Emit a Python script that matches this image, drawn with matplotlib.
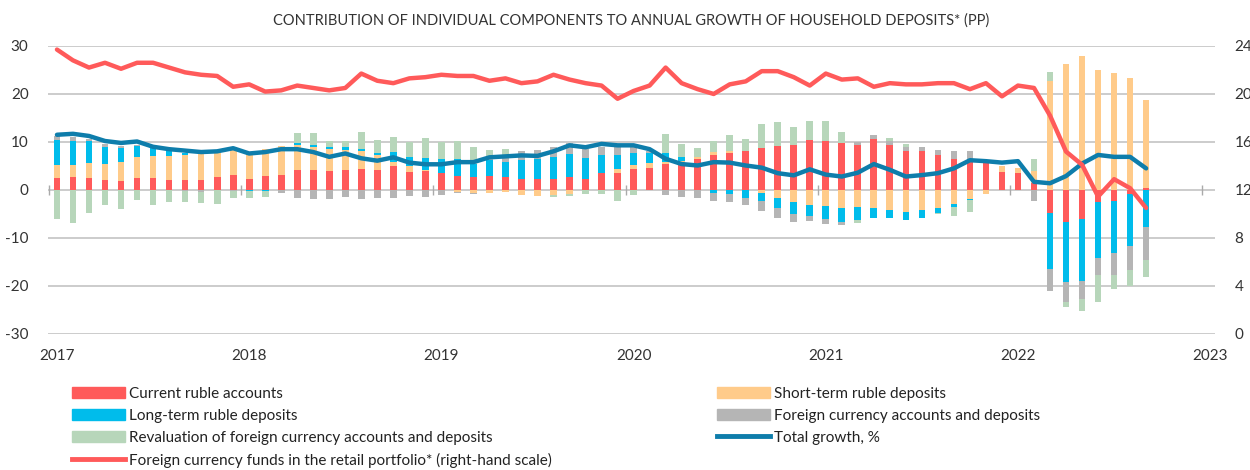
import numpy as np
import matplotlib.pyplot as plt
from matplotlib.patches import Patch
from matplotlib.lines import Line2D

plt.rcParams['font.family'] = ['Lato', 'DejaVu Sans']
plt.rcParams['axes.unicode_minus'] = False

# monthly data, Jan 2017 .. Sep 2022 (pp)
years = ['2017', '2018', '2019', '2020', '2021', '2022', '2023']

current_ruble = [2.4, 2.6, 2.5, 2.1, 1.9, 2.4, 2.4, 2.15, 2.15, 2.15,
                 2.6, 3.1, 2.3, 3.0, 3.1, 4.1, 4.2, 4.0, 4.2, 4.3,
                 4.2, 4.9, 3.75, 4.0, 3.5, 2.9, 2.6, 3.0, 2.6, 2.3,
                 2.2, 2.3, 2.8, 2.3, 3.5, 3.6, 4.3, 4.65, 5.5, 5.1,
                 6.5, 7.3, 7.8, 8.1, 8.8, 9.2, 9.4, 10.5, 10.1, 9.8,
                 9.4, 10.55, 9.4, 8.2, 8.2, 7.3, 6.5, 6.4, 5.6, 3.8,
                 3.5, 1.5, -4.9, -6.7, -6.0, -2.5, -2.2, -0.9, 0.4]
short_term = [2.7, 2.5, 3.1, 3.3, 4.0, 4.4, 4.6, 4.95, 5.15, 5.45,
              5.0, 5.8, 5.1, 5.6, 6.1, 5.3, 4.8, 4.6, 4.2, 3.8,
              3.1, 1.0, 1.25, 0.2, 0.0, -0.4, -0.7, -0.7, -0.5, -1.0,
              -1.2, -1.1, -0.8, 0.0, 0.0, 0.8, 0.9, 1.05, 0.4, 1.0,
              0.4, 0.7, 0.4, 0.0, -0.55, -1.7, -2.6, -3.1, -3.3, -3.75,
              -3.5, -3.7, -4.2, -4.6, -4.2, -3.75, -2.9, -1.9, -0.75, 1.2,
              1.0, 2.5, 22.6, 26.25, 28.0, 25.0, 24.4, 23.3, 18.35]
long_term = [5.3, 5.1, 4.6, 3.6, 2.9, 2.4, 1.75, 1.0, 0.5, 0.0,
             0.0, 0.0, -0.2, -0.2, 0.0, 0.35, 0.4, 0.35, 0.5, 0.4,
             0.3, 2.1, 1.8, 2.5, 2.9, 3.5, 2.75, 3.25, 3.3, 3.95,
             4.2, 4.6, 4.7, 4.4, 3.8, 2.9, 2.6, 2.1, 1.7, 0.7,
             -0.1, -0.7, -0.8, -1.6, -1.75, -2.05, -2.4, -2.3, -2.7, -2.85,
             -2.75, -2.1, -1.7, -1.6, -1.7, -1.15, -0.6, -0.25, 0.0, 0.0,
             0.0, 0.0, -11.6, -12.4, -13.0, -11.6, -11.0, -10.8, -7.7]
fx_accounts = [0.85, 0.9, 0.4, 0.6, 0.4, 0.2, 0.0, 0.0, -0.2, -0.5,
               0.0, -0.2, 0.0, 0.0, -0.6, -1.7, -1.8, -1.8, -1.4, -1.8,
               -1.7, -1.6, -1.3, -1.4, -1.1, -0.2, -0.1, 0.85, 0.7, 1.85,
               1.9, 2.0, 2.2, 1.9, 1.7, 1.6, 1.1, 0.3, -1.1, -1.4,
               -1.5, -1.5, -1.7, -1.6, -2.0, -2.05, -1.6, -1.0, -1.1, -0.7,
               0.5, 0.85, 0.7, 0.8, 0.7, 1.0, 1.55, 1.7, 0.0, 0.0,
               0.0, -2.4, -4.6, -4.2, -3.7, -3.6, -4.5, -5.0, -6.8]
revaluation = [-6.1, -6.9, -4.7, -3.1, -3.9, -2.1, -3.1, -2.5, -2.3, -2.2,
               -3.0, -1.5, -1.5, -1.2, 0.0, 2.1, 2.4, 1.3, 1.3, 3.6,
               2.8, 3.0, 3.1, 4.2, 3.6, 3.8, 3.65, 1.2, 1.9, 0.0,
               0.1, -0.4, -0.4, -0.8, -0.9, -2.4, -1.0, 0.0, 4.1, 2.8,
               1.85, 2.3, 3.3, 2.6, 4.9, 4.9, 3.7, 3.8, 4.2, 2.3,
               -0.55, 0.0, 0.7, 0.6, 0.0, -0.2, -2.0, -2.5, 0.0, 0.0,
               0.0, 2.5, 2.0, -1.0, -2.6, -5.6, -3.0, -3.3, -3.7]
total_growth = [11.5, 11.7, 11.25, 10.2, 9.8, 10.1, 9.0, 8.5, 8.2, 7.9,
                8.05, 8.7, 7.6, 7.9, 8.5, 8.5, 7.9, 6.9, 7.6, 6.6,
                6.1, 6.8, 5.7, 5.35, 5.35, 5.8, 5.8, 6.8, 7.0, 7.2,
                7.1, 8.05, 9.3, 8.9, 9.6, 9.3, 9.3, 8.5, 6.5, 5.4,
                5.1, 5.8, 5.7, 5.1, 4.65, 3.5, 3.05, 4.3, 3.2, 2.8,
                3.6, 5.4, 4.2, 2.8, 3.1, 3.5, 4.5, 6.2, 6.0, 5.7,
                6.0, 1.7, 1.4, 2.9, 5.5, 7.3, 6.9, 6.9, 4.5]
fx_share = [23.7, 22.8, 22.2, 22.6, 22.1, 22.6, 22.6, 22.2, 21.8, 21.6,
            21.5, 20.6, 20.8, 20.2, 20.3, 20.7, 20.5, 20.3, 20.5, 21.7,
            21.1, 20.9, 21.3, 21.4, 21.6, 21.5, 21.5, 21.1, 21.3, 20.9,
            21.05, 21.6, 21.2, 20.9, 20.7, 19.6, 20.25, 20.7, 22.2, 20.9,
            20.4, 20.0, 20.8, 21.05, 21.9, 21.9, 21.4, 20.7, 21.7, 21.2,
            21.3, 20.6, 20.9, 20.8, 20.8, 20.9, 20.9, 20.4, 20.9, 19.8,
            20.7, 20.5, 18.2, 15.2, 14.1, 11.45, 12.9, 12.15, 10.5]

series = [
    (current_ruble, '#FF5A5A', 'Current ruble accounts'),
    (short_term, '#FFCB8A', 'Short-term ruble deposits'),
    (long_term, '#00BCEB', 'Long-term ruble deposits'),
    (fx_accounts, '#B5B5B5', 'Foreign currency accounts and deposits'),
    (revaluation, '#B7D6BA', 'Revaluation of foreign currency accounts and deposits'),
]
line_blue = '#0E7DAB'
line_red = '#FF5A5A'

fig = plt.figure(figsize=(12.5, 4.7), dpi=100)
ax = fig.add_axes([0.0384, 0.2894, 0.9336, 0.6128])
ax2 = ax.twinx()

x = np.arange(len(current_ruble))
pos = np.zeros(len(x))
neg = np.zeros(len(x))
for vals, col, lab in series:
    v = np.array(vals)
    b = np.where(v >= 0, pos, neg)
    ax.bar(x, v, width=0.42, bottom=b, color=col, linewidth=0, zorder=2)
    pos += np.clip(v, 0, None)
    neg += np.clip(v, None, 0)

ax.plot(x, total_growth, color=line_blue, lw=3.2, zorder=4, solid_capstyle='round')
ax2.plot(x, fx_share, color=line_red, lw=3.2, zorder=5, solid_capstyle='round')

# small year separators on the zero line
ax.vlines(np.arange(-0.5, 72, 12), -1, 1, color='#AAAAAA', lw=1, zorder=3)

ax.set_xlim(-0.56, 72.3)
ax.set_ylim(-30, 30)
ax2.set_ylim(0, 24)
ax.set_yticks(range(-30, 31, 10))
ax2.set_yticks(range(0, 25, 4))
ax.set_xticks(range(0, 73, 12))
ax.set_xticklabels(years)
ax.grid(axis='y', color='#C8C8C8', lw=1.3)
ax.set_axisbelow(True)
for a in (ax, ax2):
    for s in a.spines.values():
        s.set_visible(False)
    a.tick_params(length=0, labelsize=11, colors='#333333')
ax.tick_params(axis='y', pad=14)
ax.tick_params(axis='x', pad=11)
ax2.tick_params(axis='y', pad=14)

fig.text(0.505, 0.957, 'CONTRIBUTION OF INDIVIDUAL COMPONENTS TO ANNUAL GROWTH OF HOUSEHOLD DEPOSITS* (PP)',
         ha='center', va='center', fontsize=10.5, color='#333333')

col1 = [Patch(color=series[0][1], label=series[0][2]),
        Patch(color=series[2][1], label=series[2][2]),
        Patch(color=series[4][1], label=series[4][2]),
        Line2D([], [], color=line_red, lw=3.5, label='Foreign currency funds in the retail portfolio* (right-hand scale)')]
col2 = [Patch(color=series[1][1], label=series[1][2]),
        Patch(color=series[3][1], label=series[3][2]),
        Line2D([], [], color=line_blue, lw=3.5, label='Total growth, %')]
kw = dict(frameon=False, fontsize=11, handlelength=3.5, handleheight=0.8,
          handletextpad=0.2, labelspacing=0.51, borderpad=0, borderaxespad=0,
          labelcolor='#222222')
fig.legend(handles=col1, loc='upper left', bbox_to_anchor=(0.0576, 0.177), **kw)
fig.legend(handles=col2, loc='upper left', bbox_to_anchor=(0.5736, 0.177), **kw)

fig.savefig('out.png', dpi=100)
